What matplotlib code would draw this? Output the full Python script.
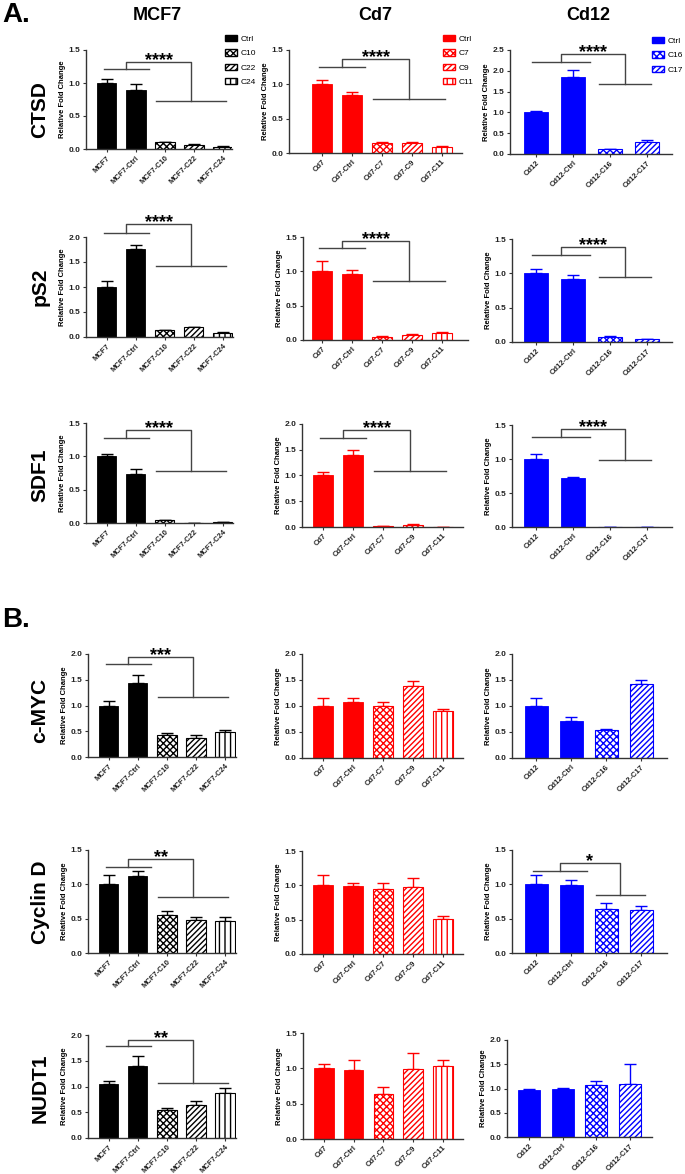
import matplotlib
matplotlib.use('Agg')
import matplotlib.pyplot as plt
from matplotlib.patches import Patch

plt.rcParams['font.family'] = ['Liberation Sans', 'DejaVu Sans']
plt.rcParams['hatch.linewidth'] = 1.0

# categories
mcf7_names = ['MCF7', 'MCF7-Ctrl', 'MCF7-C10', 'MCF7-C22', 'MCF7-C24']
cd7_names = ['Cd7', 'Cd7-Ctrl', 'Cd7-C7', 'Cd7-C9', 'Cd7-C11']
cd12_names = ['Cd12', 'Cd12-Ctrl', 'Cd12-C16', 'Cd12-C17']

mcf7_legend = ['Ctrl', 'C10', 'C22', 'C24']
cd7_legend = ['Ctrl', 'C7', 'C9', 'C11']
cd12_legend = ['Ctrl', 'C16', 'C17']

col_titles = ['MCF7', 'Cd7', 'Cd12']
row_genes = ['CTSD', 'pS2', 'SDF1', 'c-MYC', 'Cyclin D', 'NUDT1']

# relative fold change (mean) and upper error
ctsd_mcf7 = [1.00, 0.90, 0.10, 0.06, 0.03]
ctsd_mcf7_err = [0.06, 0.08, 0.01, 0.01, 0.01]
ctsd_cd7 = [1.00, 0.85, 0.15, 0.14, 0.09]
ctsd_cd7_err = [0.06, 0.04, 0.01, 0.02, 0.01]
ctsd_cd12 = [1.00, 1.85, 0.12, 0.30]
ctsd_cd12_err = [0.04, 0.17, 0.01, 0.03]

ps2_mcf7 = [1.00, 1.77, 0.13, 0.19, 0.08]
ps2_mcf7_err = [0.12, 0.08, 0.01, 0.01, 0.01]
ps2_cd7 = [1.00, 0.96, 0.05, 0.08, 0.10]
ps2_cd7_err = [0.15, 0.06, 0.01, 0.01, 0.02]
ps2_cd12 = [1.00, 0.92, 0.08, 0.04]
ps2_cd12_err = [0.07, 0.06, 0.01, 0.005]

sdf1_mcf7 = [1.00, 0.73, 0.04, 0.005, 0.01]
sdf1_mcf7_err = [0.04, 0.08, 0.01, 0.002, 0.003]
sdf1_cd7 = [1.00, 1.39, 0.01, 0.04, 0.005]
sdf1_cd7_err = [0.07, 0.10, 0.002, 0.01, 0.002]
sdf1_cd12 = [1.00, 0.72, 0.005, 0.005]
sdf1_cd12_err = [0.08, 0.02, 0.001, 0.001]

myc_mcf7 = [1.00, 1.43, 0.42, 0.37, 0.48]
myc_mcf7_err = [0.08, 0.16, 0.04, 0.05, 0.05]
myc_cd7 = [1.00, 1.08, 1.00, 1.38, 0.90]
myc_cd7_err = [0.15, 0.07, 0.08, 0.10, 0.05]
myc_cd12 = [1.00, 0.72, 0.53, 1.42]
myc_cd12_err = [0.15, 0.07, 0.03, 0.08]

cycd_mcf7 = [1.00, 1.12, 0.56, 0.48, 0.47]
cycd_mcf7_err = [0.13, 0.07, 0.05, 0.04, 0.05]
cycd_cd7 = [1.00, 0.99, 0.95, 0.98, 0.51]
cycd_cd7_err = [0.15, 0.04, 0.09, 0.12, 0.05]
cycd_cd12 = [1.00, 0.99, 0.64, 0.63]
cycd_cd12_err = [0.13, 0.08, 0.09, 0.05]

nudt1_mcf7 = [1.05, 1.40, 0.55, 0.65, 0.88]
nudt1_mcf7_err = [0.05, 0.20, 0.03, 0.06, 0.10]
nudt1_cd7 = [1.00, 0.97, 0.63, 0.99, 1.03]
nudt1_cd7_err = [0.06, 0.15, 0.10, 0.23, 0.09]
nudt1_cd12 = [0.97, 0.98, 1.07, 1.10]
nudt1_cd12_err = [0.03, 0.03, 0.09, 0.41]

# significance brackets: (left line y, top y, right line y, stars)
ctsd_mcf7_sig = (1.21, 1.32, 0.72, '****')
ctsd_cd7_sig = (1.25, 1.37, 0.78, '****')
ctsd_cd12_sig = (2.21, 2.40, 1.68, '****')
ps2_mcf7_sig = (2.08, 2.26, 1.42, '****')
ps2_cd7_sig = (1.34, 1.44, 0.86, '****')
ps2_cd12_sig = (1.27, 1.38, 0.95, '****')
sdf1_mcf7_sig = (1.27, 1.39, 0.78, '****')
sdf1_cd7_sig = (1.73, 1.88, 1.09, '****')
sdf1_cd12_sig = (1.32, 1.44, 0.99, '****')
myc_mcf7_sig = (1.80, 1.94, 1.17, '***')
cycd_mcf7_sig = (1.25, 1.37, 0.82, '**')
cycd_cd12_sig = (1.20, 1.31, 0.85, '*')
nudt1_mcf7_sig = (1.79, 1.90, 1.07, '**')

# ---- styling / layout ----
W, H = 685, 1174
BLACK, RED, BLUE = '#000000', '#FF0000', '#0000FF'
hatch5 = [None, None, 'xxxxx', '//////', '|||']
hatch4 = [None, None, 'xxxxx', '//////']

fig = plt.figure(figsize=(W / 100, H / 100), dpi=100)


def px_axes(x0, x1, y0, y1):
    return fig.add_axes([x0 / W, 1 - y1 / H, (x1 - x0) / W, (y1 - y0) / H])


def draw_panel(rect, xlim, names, vals, errs, ytop, color, hatches, sig=None):
    ax = px_axes(*rect)
    n = len(names)
    xs = list(range(n))
    for i in xs:
        h = hatches[i]
        if h is None:
            ax.bar(i, vals[i], 0.66, color=color, edgecolor=color, linewidth=0.6, zorder=2)
        else:
            ax.bar(i, vals[i], 0.66, facecolor='white', edgecolor=color, hatch=h,
                   linewidth=0.8, zorder=2)
    ax.errorbar(xs, vals, yerr=[[0] * n, errs], fmt='none', ecolor=color,
                elinewidth=1, capsize=4, capthick=1, zorder=1)
    ax.set_xlim(*xlim)
    ax.set_ylim(0, ytop)
    ticks = [k * 0.5 for k in range(int(round(ytop / 0.5)) + 1)]
    ax.set_yticks(ticks)
    ax.set_yticklabels(['%.1f' % t for t in ticks], fontsize=6, fontweight='bold', color='#222222')
    ax.set_xticks(xs)
    ax.set_xticklabels(names, rotation=45, ha='right', rotation_mode='anchor',
                       fontsize=5.5, fontweight='bold', color='#222222')
    ax.tick_params(length=2.5, width=0.8, pad=1.5, color='#333333')
    for s in ['top', 'right']:
        ax.spines[s].set_visible(False)
    for s in ['left', 'bottom']:
        ax.spines[s].set_linewidth(1)
        ax.spines[s].set_color('#333333')
    ax.set_ylabel('Relative Fold Change', fontsize=5.5, fontweight='bold', labelpad=2)
    if sig is not None:
        yl, yt, yr, stars = sig
        l0, l1 = -0.1, 1.45
        r0, r1 = 1.7, n - 1 + 0.1
        lm, rm = (l0 + l1) / 2, (r0 + r1) / 2
        kw = dict(color='#444444', lw=1, clip_on=False)
        ax.plot([l0, l1], [yl, yl], **kw)
        ax.plot([r0, r1], [yr, yr], **kw)
        ax.plot([lm, lm, rm, rm], [yl, yt, yt, yr], **kw)
        ax.annotate(stars, xy=((lm + rm) / 2, yt), xytext=(0, -5), textcoords='offset points',
                    ha='center', va='bottom', fontsize=13, fontweight='bold', annotation_clip=False)
    return ax


# row A: CTSD
draw_panel((86, 232, 50, 149), (-0.72, 4.31), mcf7_names, ctsd_mcf7, ctsd_mcf7_err, 1.5, BLACK, hatch5, ctsd_mcf7_sig)
draw_panel((289, 462, 50, 153), (-1.1, 4.67), cd7_names, ctsd_cd7, ctsd_cd7_err, 1.5, RED, hatch5, ctsd_cd7_sig)
draw_panel((510, 672, 50, 154), (-0.7, 3.68), cd12_names, ctsd_cd12, ctsd_cd12_err, 2.5, BLUE, hatch4, ctsd_cd12_sig)
# pS2
draw_panel((86, 233, 237, 337), (-0.72, 4.35), mcf7_names, ps2_mcf7, ps2_mcf7_err, 2.0, BLACK, hatch5, ps2_mcf7_sig)
draw_panel((303, 468, 237, 340), (-0.63, 4.87), cd7_names, ps2_cd7, ps2_cd7_err, 1.5, RED, hatch5, ps2_cd7_sig)
draw_panel((512, 672, 239, 342), (-0.65, 3.68), cd12_names, ps2_cd12, ps2_cd12_err, 1.5, BLUE, hatch4, ps2_cd12_sig)
# SDF1
draw_panel((86, 233, 423, 523), (-0.72, 4.35), mcf7_names, sdf1_mcf7, sdf1_mcf7_err, 1.5, BLACK, hatch5, sdf1_mcf7_sig)
draw_panel((302, 463, 424, 527), (-0.7, 4.67), cd7_names, sdf1_cd7, sdf1_cd7_err, 2.0, RED, hatch5, sdf1_cd7_sig)
draw_panel((512, 672, 425, 527), (-0.65, 3.68), cd12_names, sdf1_cd12, sdf1_cd12_err, 1.5, BLUE, hatch4, sdf1_cd12_sig)
# row B: c-MYC
draw_panel((88, 236, 654, 757), (-0.72, 4.38), mcf7_names, myc_mcf7, myc_mcf7_err, 2.0, BLACK, hatch5, myc_mcf7_sig)
draw_panel((302, 463, 654, 758), (-0.7, 4.67), cd7_names, myc_cd7, myc_cd7_err, 2.0, RED, hatch5)
draw_panel((512, 667, 654, 758), (-0.69, 3.74), cd12_names, myc_cd12, myc_cd12_err, 2.0, BLUE, hatch4)
# Cyclin D
draw_panel((88, 236, 850, 953), (-0.72, 4.38), mcf7_names, cycd_mcf7, cycd_mcf7_err, 1.5, BLACK, hatch5, cycd_mcf7_sig)
draw_panel((302, 463, 851, 954), (-0.7, 4.67), cd7_names, cycd_cd7, cycd_cd7_err, 1.5, RED, hatch5)
draw_panel((512, 667, 850, 953), (-0.69, 3.74), cd12_names, cycd_cd12, cycd_cd12_err, 1.5, BLUE, hatch4, cycd_cd12_sig)
# NUDT1
draw_panel((88, 236, 1035, 1138), (-0.72, 4.38), mcf7_names, nudt1_mcf7, nudt1_mcf7_err, 2.0, BLACK, hatch5, nudt1_mcf7_sig)
draw_panel((303, 463, 1033, 1139), (-0.7, 4.67), cd7_names, nudt1_cd7, nudt1_cd7_err, 1.5, RED, hatch5)
draw_panel((507, 652, 1040, 1137), (-0.65, 3.65), cd12_names, nudt1_cd12, nudt1_cd12_err, 2.0, BLUE, hatch4)

# legends
def add_legend(labels, color, hatches, x, y):
    handles = []
    for lab, h in zip(labels, hatches):
        if h is None:
            handles.append(Patch(facecolor=color, edgecolor=color, label=lab))
        else:
            handles.append(Patch(facecolor='white', edgecolor=color, hatch=h, label=lab))
    fig.legend(handles=handles, loc='upper left', bbox_to_anchor=(x / W, 1 - y / H),
               frameon=False, fontsize=6, handlelength=1.4, handleheight=0.8,
               labelspacing=0.75, handletextpad=0.5, borderpad=0, borderaxespad=0)


add_legend(mcf7_legend, BLACK, [None, 'xxxxx', '//////', '|||'], 225, 35)
add_legend(cd7_legend, RED, [None, 'xxxxx', '//////', '|||'], 443, 35)
add_legend(cd12_legend, BLUE, [None, 'xxxxx', '//////'], 652, 37)

# titles and labels
for t, xc in zip(col_titles, [157, 375, 588]):
    fig.text(xc / W, 1 - 15 / H, t, ha='center', va='center', fontsize=13, fontweight='bold')

for g, yc in zip(row_genes, [110, 287, 475, 710, 902, 1088]):
    fig.text(40 / W, 1 - yc / H, g, ha='center', va='center', rotation=90,
             fontsize=15, fontweight='bold')

fig.text(2 / W, 1 - 15 / H, 'A.', ha='left', va='center', fontsize=20, fontweight='bold')
fig.text(2 / W, 1 - 620 / H, 'B.', ha='left', va='center', fontsize=20, fontweight='bold')

fig.savefig('out.png', dpi=100)
